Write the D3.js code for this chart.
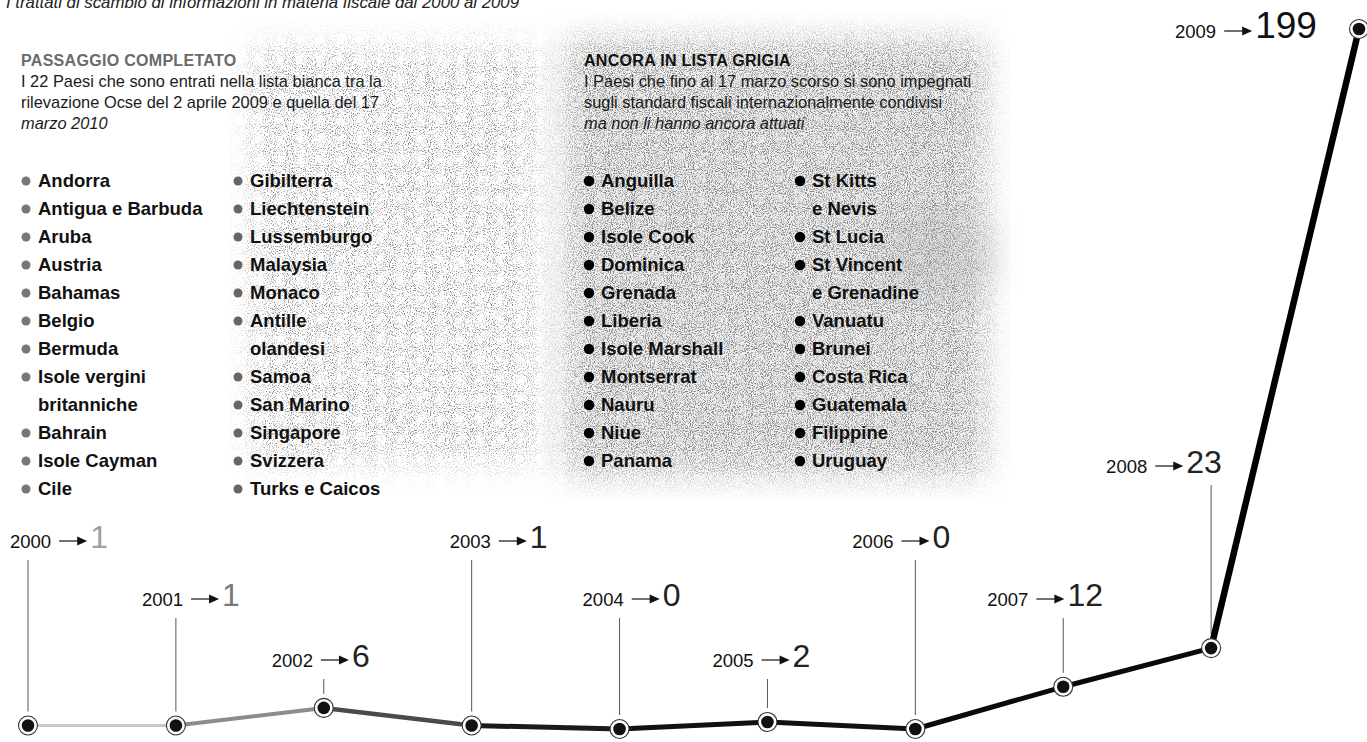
<!DOCTYPE html>
<html>
<head>
<meta charset="utf-8">
<script src="https://cdn.jsdelivr.net/npm/d3@7/dist/d3.min.js"></script>
<style>
  html, body { margin: 0; padding: 0; background: #fff; }
  svg { display: block; }
  text { font-family: "Liberation Sans", Arial, sans-serif; }
</style>
</head>
<body>
<svg id="chart" width="1367" height="742"></svg>
<script>
// ---------------- DATA ----------------
const title = "I trattati di scambio di informazioni in materia fiscale dal 2000 al 2009";
const years = [2000, 2001, 2002, 2003, 2004, 2005, 2006, 2007, 2008, 2009];
const treaties = [1, 1, 6, 1, 0, 2, 0, 12, 23, 199];

const leftHeading = "PASSAGGIO COMPLETATO";
const leftIntro = ["I 22 Paesi che sono entrati nella lista bianca tra la",
                   "rilevazione Ocse del 2 aprile 2009 e quella del 17",
                   "marzo 2010"];
const whiteListCol1 = ["Andorra", "Antigua e Barbuda", "Aruba", "Austria", "Bahamas", "Belgio",
                       "Bermuda", "Isole vergini|britanniche", "Bahrain", "Isole Cayman", "Cile"];
const whiteListCol2 = ["Gibilterra", "Liechtenstein", "Lussemburgo", "Malaysia", "Monaco",
                       "Antille|olandesi", "Samoa", "San Marino", "Singapore", "Svizzera", "Turks e Caicos"];

const rightHeading = "ANCORA IN LISTA GRIGIA";
const rightIntro = ["I Paesi che fino al 17 marzo scorso si sono impegnati",
                    "sugli standard fiscali internazionalmente condivisi",
                    "ma non li hanno ancora attuati"];
const greyListCol1 = ["Anguilla", "Belize", "Isole Cook", "Dominica", "Grenada", "Liberia",
                      "Isole Marshall", "Montserrat", "Nauru", "Niue", "Panama"];
const greyListCol2 = ["St Kitts|e Nevis", "St Lucia", "St Vincent|e Grenadine", "Vanuatu", "Brunei",
                      "Costa Rica", "Guatemala", "Filippine", "Uruguay"];

// ---------------- LAYOUT ----------------
const W = 1367, H = 742;
const svg = d3.select("#chart");
const defs = svg.append("defs");

// paper grain (halftone stipple)
function grain(id, seed, alphaScale, alphaShift, freq) {
  const f = defs.append("filter").attr("id", id)
    .attr("x", 0).attr("y", 0).attr("width", 1).attr("height", 1);
  f.append("feTurbulence").attr("type", "fractalNoise").attr("baseFrequency", freq)
    .attr("numOctaves", 2).attr("seed", seed).attr("result", "n");
  f.append("feColorMatrix").attr("in", "n").attr("type", "matrix")
    .attr("values", `0 0 0 0 0.25  0 0 0 0 0.25  0 0 0 0 0.25  ${alphaScale} 0 0 0 ${alphaShift}`);
}
grain("grainR", 4, 4.5, -2.05, 0.95);
grain("grainL", 9, 4.5, -2.35, 0.95);
const blur = defs.append("filter").attr("id", "soft").attr("x", "-20%").attr("y", "-20%").attr("width", "140%").attr("height", "140%");
blur.append("feGaussianBlur").attr("stdDeviation", 16);

const maskR = defs.append("mask").attr("id", "maskR");
maskR.append("rect").attr("x", 565).attr("y", 40).attr("width", 420).attr("height", 435)
  .attr("fill", "#fff").attr("filter", "url(#soft)");
const maskL = defs.append("mask").attr("id", "maskL");
maskL.append("rect").attr("x", 250).attr("y", 45).attr("width", 290).attr("height", 420)
  .attr("fill", "#fff").attr("filter", "url(#soft)");

const bg = svg.append("g");
bg.append("rect").attr("x", 540).attr("y", 10).attr("width", 470).attr("height", 490)
  .attr("fill", "#e4e4e4").attr("opacity", 0.5).attr("mask", "url(#maskR)");
bg.append("rect").attr("x", 540).attr("y", 10).attr("width", 470).attr("height", 490)
  .attr("fill", "#000").attr("filter", "url(#grainR)").attr("mask", "url(#maskR)");
bg.append("ellipse").attr("cx", 940).attr("cy", 255).attr("rx", 60).attr("ry", 50)
  .attr("fill", "#aaa").attr("opacity", 0.25).attr("filter", "url(#soft)");
bg.append("rect").attr("x", 230).attr("y", 20).attr("width", 330).attr("height", 470)
  .attr("fill", "#000").attr("filter", "url(#grainL)").attr("mask", "url(#maskL)");

// ---------------- TEXT BLOCKS ----------------
svg.append("text").attr("x", 6).attr("y", 8)
  .attr("font-size", 16.8).attr("font-style", "italic").attr("fill", "#222").text(title);

const narrow = "'Liberation Sans Narrow', 'Liberation Sans', sans-serif";
function introBlock(x, heading, lines, headColor, italicIdx) {
  const g = svg.append("g");
  g.append("text").attr("x", x).attr("y", 66).attr("font-weight", "bold")
    .attr("fill", headColor).attr("letter-spacing", 0.3)
    .attr("font-family", narrow).attr("font-size", 16).text(heading);
  lines.forEach((l, i) => {
    g.append("text").attr("x", x).attr("y", 87 + i * 21)
      .attr("font-family", narrow)
      .attr("font-size", 16.4).attr("fill", "#1a1a1a")
      .attr("font-style", italicIdx.includes(i) ? "italic" : "normal").text(l);
  });
}
introBlock(21, leftHeading, leftIntro, "#6a6a6a", [2]);
introBlock(584, rightHeading, rightIntro, "#111", [2]);

const rowStep = 28, rowTop = 187;
function listColumn(items, bx, tx, bulletColor, bulletR) {
  const g = svg.append("g");
  let row = 0;
  items.forEach(item => {
    const parts = item.split("|");
    g.append("circle").attr("cx", bx).attr("cy", rowTop + row * rowStep - 6)
      .attr("r", bulletR).attr("fill", bulletColor);
    parts.forEach(p => {
      g.append("text").attr("x", tx).attr("y", rowTop + row * rowStep)
        .attr("font-size", 18.5).attr("font-weight", "bold").attr("fill", "#111").text(p);
      row++;
    });
  });
}
listColumn(whiteListCol1, 26, 38, "#777", 4.5);
listColumn(whiteListCol2, 238, 250, "#666", 4.5);
listColumn(greyListCol1, 589, 601, "#000", 5.2);
listColumn(greyListCol2, 800, 812, "#000", 5.2);

// ---------------- LINE CHART ----------------
const data = years.map((y, i) => ({ year: y, value: treaties[i] }));
const x = d3.scalePoint().domain(years).range([28, 1359]);
const y = d3.scaleLinear().domain([0, 199]).range([729, 29]);

// label layout: offset of label start from its point, and label baseline
const labelLayout = [
  { dx: -18, by: 548 }, { dx: -34, by: 606 }, { dx: -52, by: 667 },
  { dx: -22, by: 548 }, { dx: -37, by: 606 }, { dx: -55, by: 667 },
  { dx: -63, by: 548 }, { dx: -76, by: 606 }, { dx: -105, by: 473 },
  { dx: -184, by: 38 }
];
const valueColors = ["#a0a0a0", "#7a7a7a", "#222", "#222", "#222", "#222", "#222", "#222", "#222", "#111"];

const chart = svg.append("g");
// connectors
chart.selectAll("line.conn").data(data.slice(0, 9)).join("line")
  .attr("class", "conn")
  .attr("x1", d => x(d.year)).attr("x2", d => x(d.year))
  .attr("y1", (d, i) => labelLayout[i].by + 12)
  .attr("y2", d => y(d.value) - 14)
  .attr("stroke", "#555").attr("stroke-width", 1);

// segments
const segStyles = [
  { c: "#c8c8c8", w: 3 }, { c: "#8c8c8c", w: 4 }, { c: "#4a4a4a", w: 4.5 },
  { c: "#1a1a1a", w: 5 }, { c: "#111", w: 5 }, { c: "#111", w: 5 },
  { c: "#0a0a0a", w: 5 }, { c: "#0a0a0a", w: 5 }, { c: "#000", w: 6.5 }
];
const lineGen = d3.line().x(d => x(d.year)).y(d => y(d.value));
chart.selectAll("path.seg").data(d3.pairs(data)).join("path")
  .attr("class", "seg")
  .attr("d", d => lineGen(d))
  .attr("fill", "none")
  .attr("stroke", (d, i) => segStyles[i].c)
  .attr("stroke-width", (d, i) => segStyles[i].w)
  .attr("stroke-linecap", "round");

// points
const pts = chart.selectAll("g.pt").data(data).join("g").attr("class", "pt")
  .attr("transform", d => `translate(${x(d.year)},${y(d.value)})`);
pts.append("circle").attr("r", 9.5).attr("fill", "#fff").attr("stroke", "#333").attr("stroke-width", 1.1);
pts.append("circle").attr("r", 6.3).attr("fill", "#111");

// labels
const labFont = "'Open Sans', 'Liberation Sans', sans-serif";
data.forEach((d, i) => {
  const L = labelLayout[i];
  const g = chart.append("g").attr("transform", `translate(${x(d.year) + L.dx},${L.by})`);
  const yt = g.append("text").attr("x", 0).attr("y", 0).attr("font-size", 18.5)
    .attr("font-family", labFont).attr("fill", "#111").text(d.year);
  const yw = yt.node().getComputedTextLength();
  const ax0 = yw + 8, ax1 = ax0 + 28;
  g.append("line").attr("x1", ax0).attr("x2", ax1 - 7).attr("y1", -7).attr("y2", -7)
    .attr("stroke", "#111").attr("stroke-width", 1.2);
  g.append("path").attr("d", `M${ax1 - 10},-11.5 L${ax1},-7 L${ax1 - 10},-2.5 Z`).attr("fill", "#111");
  const big = d.value > 100;
  g.append("text").attr("x", ax1 + 3).attr("y", 0)
    .attr("font-size", big ? 37 : 32)
    .attr("font-family", labFont)
    .attr("font-weight", 300)
    .attr("fill", valueColors[i]).text(d.value);
});
</script>
</body>
</html>
